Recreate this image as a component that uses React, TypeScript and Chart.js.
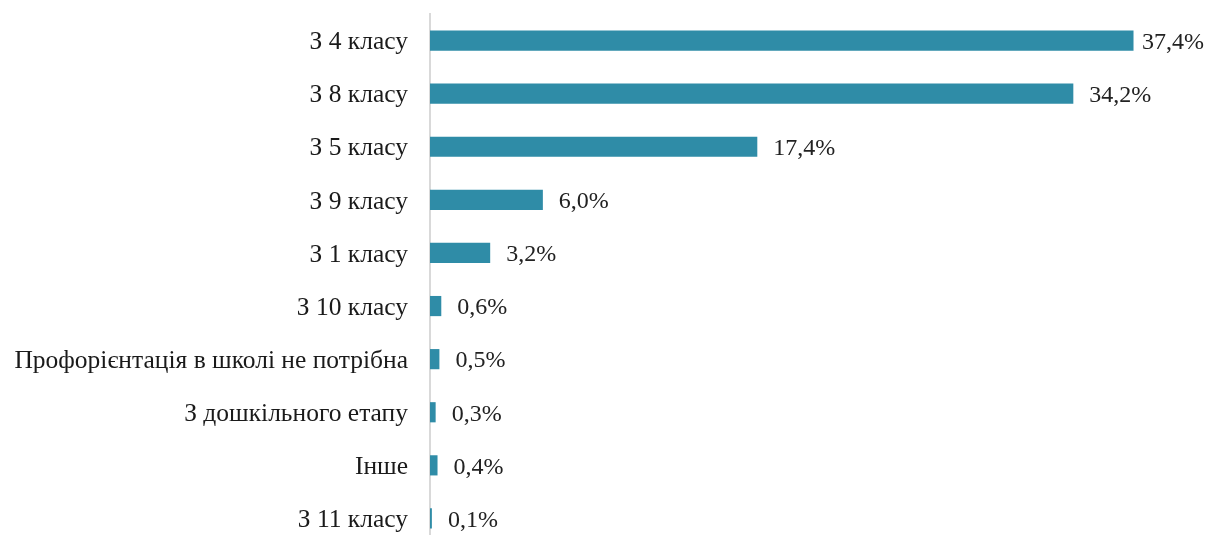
import React, { useEffect, useRef } from "react";
import { Chart, registerables } from "chart.js";

Chart.register(...registerables);

const categories = [
  "З 4 класу",
  "З 8 класу",
  "З 5 класу",
  "З 9 класу",
  "З 1 класу",
  "З 10 класу",
  "Профорієнтація в школі не потрібна",
  "З дошкільного етапу",
  "Інше",
  "З 11 класу",
];
const values = [37.4, 34.2, 17.4, 6.0, 3.2, 0.6, 0.5, 0.3, 0.4, 0.1];
const valueLabels = ["37,4%", "34,2%", "17,4%", "6,0%", "3,2%", "0,6%", "0,5%", "0,3%", "0,4%", "0,1%"];

const FONT = "'Liberation Serif', 'DejaVu Serif', serif";

const dataLabelPlugin = {
  id: "dataLabels",
  afterDatasetsDraw(chart: any) {
    const ctx = chart.ctx;
    const meta = chart.getDatasetMeta(0);
    ctx.save();
    ctx.font = `24px ${FONT}`;
    ctx.fillStyle = "#222222";
    ctx.textAlign = "left";
    ctx.textBaseline = "middle";
    meta.data.forEach((bar: any, i: number) => {
      const w = ctx.measureText(valueLabels[i]).width;
      const x = Math.min(bar.x + 16, chart.width - 1 - w);
      ctx.fillText(valueLabels[i], x, bar.y + 2);
    });
    ctx.restore();
  },
};

export default function App() {
  const ref = useRef<HTMLCanvasElement>(null);
  useEffect(() => {
    if (!ref.current) return;
    const chart = new Chart(ref.current, {
      type: "bar",
      data: {
        labels: categories,
        datasets: [
          {
            data: values,
            backgroundColor: "#2f8ca7",
            borderWidth: 0,
            categoryPercentage: 1,
            barPercentage: 0.38,
          },
        ],
      },
      options: {
        indexAxis: "y",
        responsive: false,
        animation: false,
        layout: { padding: { top: 14, bottom: 0, left: 0, right: 0 } },
        plugins: { legend: { display: false }, tooltip: { enabled: false } },
        scales: {
          x: { display: false, min: 0, max: 41.2 },
          y: {
            afterFit: (scale: any) => {
              scale.width = 430;
              scale.paddingTop = 0;
              scale.paddingBottom = 0;
            },
            grid: { display: false, drawTicks: false },
            border: { display: true, color: "#d9d9d9", width: 2 },
            ticks: {
              padding: 22,
              labelOffset: 2,
              color: "#1a1a1a",
              font: { family: FONT, size: 25.5 },
            },
          },
        },
      },
      plugins: [dataLabelPlugin],
    });
    return () => chart.destroy();
  }, []);
  return (
    <div
      style={{
        position: "fixed",
        left: 0,
        top: 0,
        width: 1205,
        height: 535,
        overflow: "hidden",
        background: "#fff",
      }}
    >
      <canvas ref={ref} width={1205} height={545} />
    </div>
  );
}
